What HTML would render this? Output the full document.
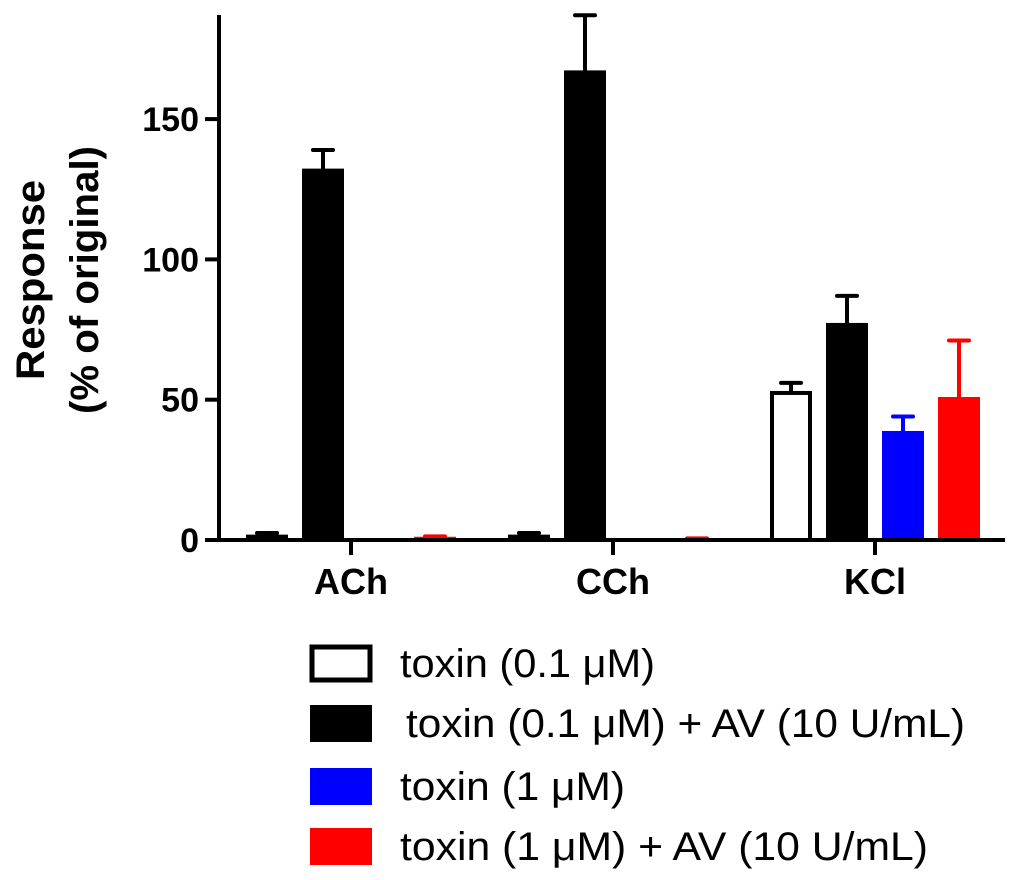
<!DOCTYPE html>
<html><head><meta charset="utf-8"><style>
html,body{margin:0;padding:0;background:#fff}
svg{display:block;font-family:"Liberation Sans",Arial,sans-serif}
</style></head><body>
<svg id="chart" width="1024" height="880" viewBox="0 0 1024 880" xmlns="http://www.w3.org/2000/svg">
<g id="plot"></g>
<g id="legend"></g>
</svg>
<script>
const categories = ["ACh", "CCh", "KCl"];
const seriesNames = ["toxin (0.1 μM)", "toxin (0.1 μM) + AV (10 U/mL)", "toxin (1 μM)", "toxin (1 μM) + AV (10 U/mL)"];
const valsWhite = [1.2, 1.2, 52.4];
const errWhite = [1.3, 1.3, 3.6];
const valsBlack = [132, 167, 77];
const errBlack = [7, 20, 10];
const valsBlue = [0, 0, 38.5];
const errBlue = [0, 0, 5.5];
const valsRed = [0.8, 0.3, 50.6];
const errRed = [0.5, 0.3, 20.5];
const yTicks = [0, 50, 100, 150];

const NS = "http://www.w3.org/2000/svg";
const plot = document.getElementById("plot");
const legend = document.getElementById("legend");
function mk(tag, attrs, parent){const e=document.createElementNS(NS,tag);for(const k in attrs)e.setAttribute(k,attrs[k]);parent.appendChild(e);return e;}

const x0 = 219, yBase = 540, pxPer = 2.806;
function yScale(v){return yBase - v*pxPer;}
const groupStart = [246, 508, 770];
function xBar(ci, si){return groupStart[ci] + si*56;}
const barW = 42;

let ax = mk("line",{x1:x0,y1:15,x2:x0,y2:yBase+2,stroke:"#000","stroke-width":4},plot);


yTicks.forEach(t=>{
  const y=yScale(t);
  let tk=mk("line",{x1:205,y1:y,x2:x0,y2:y,stroke:"#000","stroke-width":4},plot);
  
  
  let lb=mk("text",{x:199,y:y+12,"text-anchor":"end","font-size":34,"font-weight":"bold"},plot);
  lb.textContent=t;
  
  
});
let t1=mk("text",{transform:"translate(44,280) rotate(-90)","text-anchor":"middle","font-size":40,"font-weight":"bold",textLength:200,lengthAdjust:"spacingAndGlyphs"},plot);
t1.textContent="Response";


let t2=mk("text",{transform:"translate(98,280) rotate(-90)","text-anchor":"middle","font-size":40,"font-weight":"bold",textLength:268,lengthAdjust:"spacingAndGlyphs"},plot);
t2.textContent="(% of original)";



const series = [
  {v:valsWhite,e:errWhite,fill:"#fff",ec:"#000"},
  {v:valsBlack,e:errBlack,fill:"#000",ec:"#000"},
  {v:valsBlue,e:errBlue,fill:"#0000ff",ec:"#0000ff"},
  {v:valsRed,e:errRed,fill:"#ff0000",ec:"#ff0000"}
];
series.forEach((s,si)=>{
  categories.forEach((c,ci)=>{
    const v=s.v[ci]; const x=xBar(ci,si);
    if(v<=0) return;
    const top=yScale(v);
    const err=yScale(v+s.e[ci]);
    const ec=s.ec;
    let el=mk("line",{x1:x+barW/2,y1:top,x2:x+barW/2,y2:err,stroke:ec,"stroke-width":4},plot);
    
    
    let cap=mk("line",{x1:x+barW/2-10,y1:err,x2:x+barW/2+10,y2:err,stroke:ec,"stroke-width":4,"stroke-linecap":"round"},plot);
    
    
    let r;
    if(si===0){
      r=mk("rect",{x:x+2,y:top,width:barW-4,height:yBase-top,fill:"#fff",stroke:"#000","stroke-width":4},plot);
    } else {
      r=mk("rect",{x:x,y:top-1,width:barW,height:yBase-top+1,fill:s.fill},plot);
    }
    
    
  });
});

let xa=mk("line",{x1:x0-2,y1:yBase,x2:1005,y2:yBase,stroke:"#000","stroke-width":4},plot);


categories.forEach((c,ci)=>{
  const cx=(xBar(ci,0)+xBar(ci,3)+barW)/2;
  let tk=mk("line",{x1:cx,y1:yBase,x2:cx,y2:555,stroke:"#000","stroke-width":4},plot);
  
  
  let lb=mk("text",{x:cx,y:594,"text-anchor":"middle","font-size":36,"font-weight":"bold"},plot);
  lb.textContent=c;
  
  
});

const legY=[645,705,768,828];
const legTextX=[400,406,400,400];
const legTextW=[255,559,225,528];
series.forEach((s,si)=>{
  let r;
  if(si===0) r=mk("rect",{x:312,y:legY[si]+2,width:58,height:33,fill:"#fff",stroke:"#000","stroke-width":5},legend);
  else r=mk("rect",{x:310,y:legY[si],width:62,height:37,fill:s.fill},legend);
  
  
  let t=mk("text",{x:legTextX[si],y:legY[si]+32,"font-size":40,textLength:legTextW[si],lengthAdjust:"spacingAndGlyphs"},legend);
  t.textContent=seriesNames[si];
  
  
});
</script>
</body></html>
